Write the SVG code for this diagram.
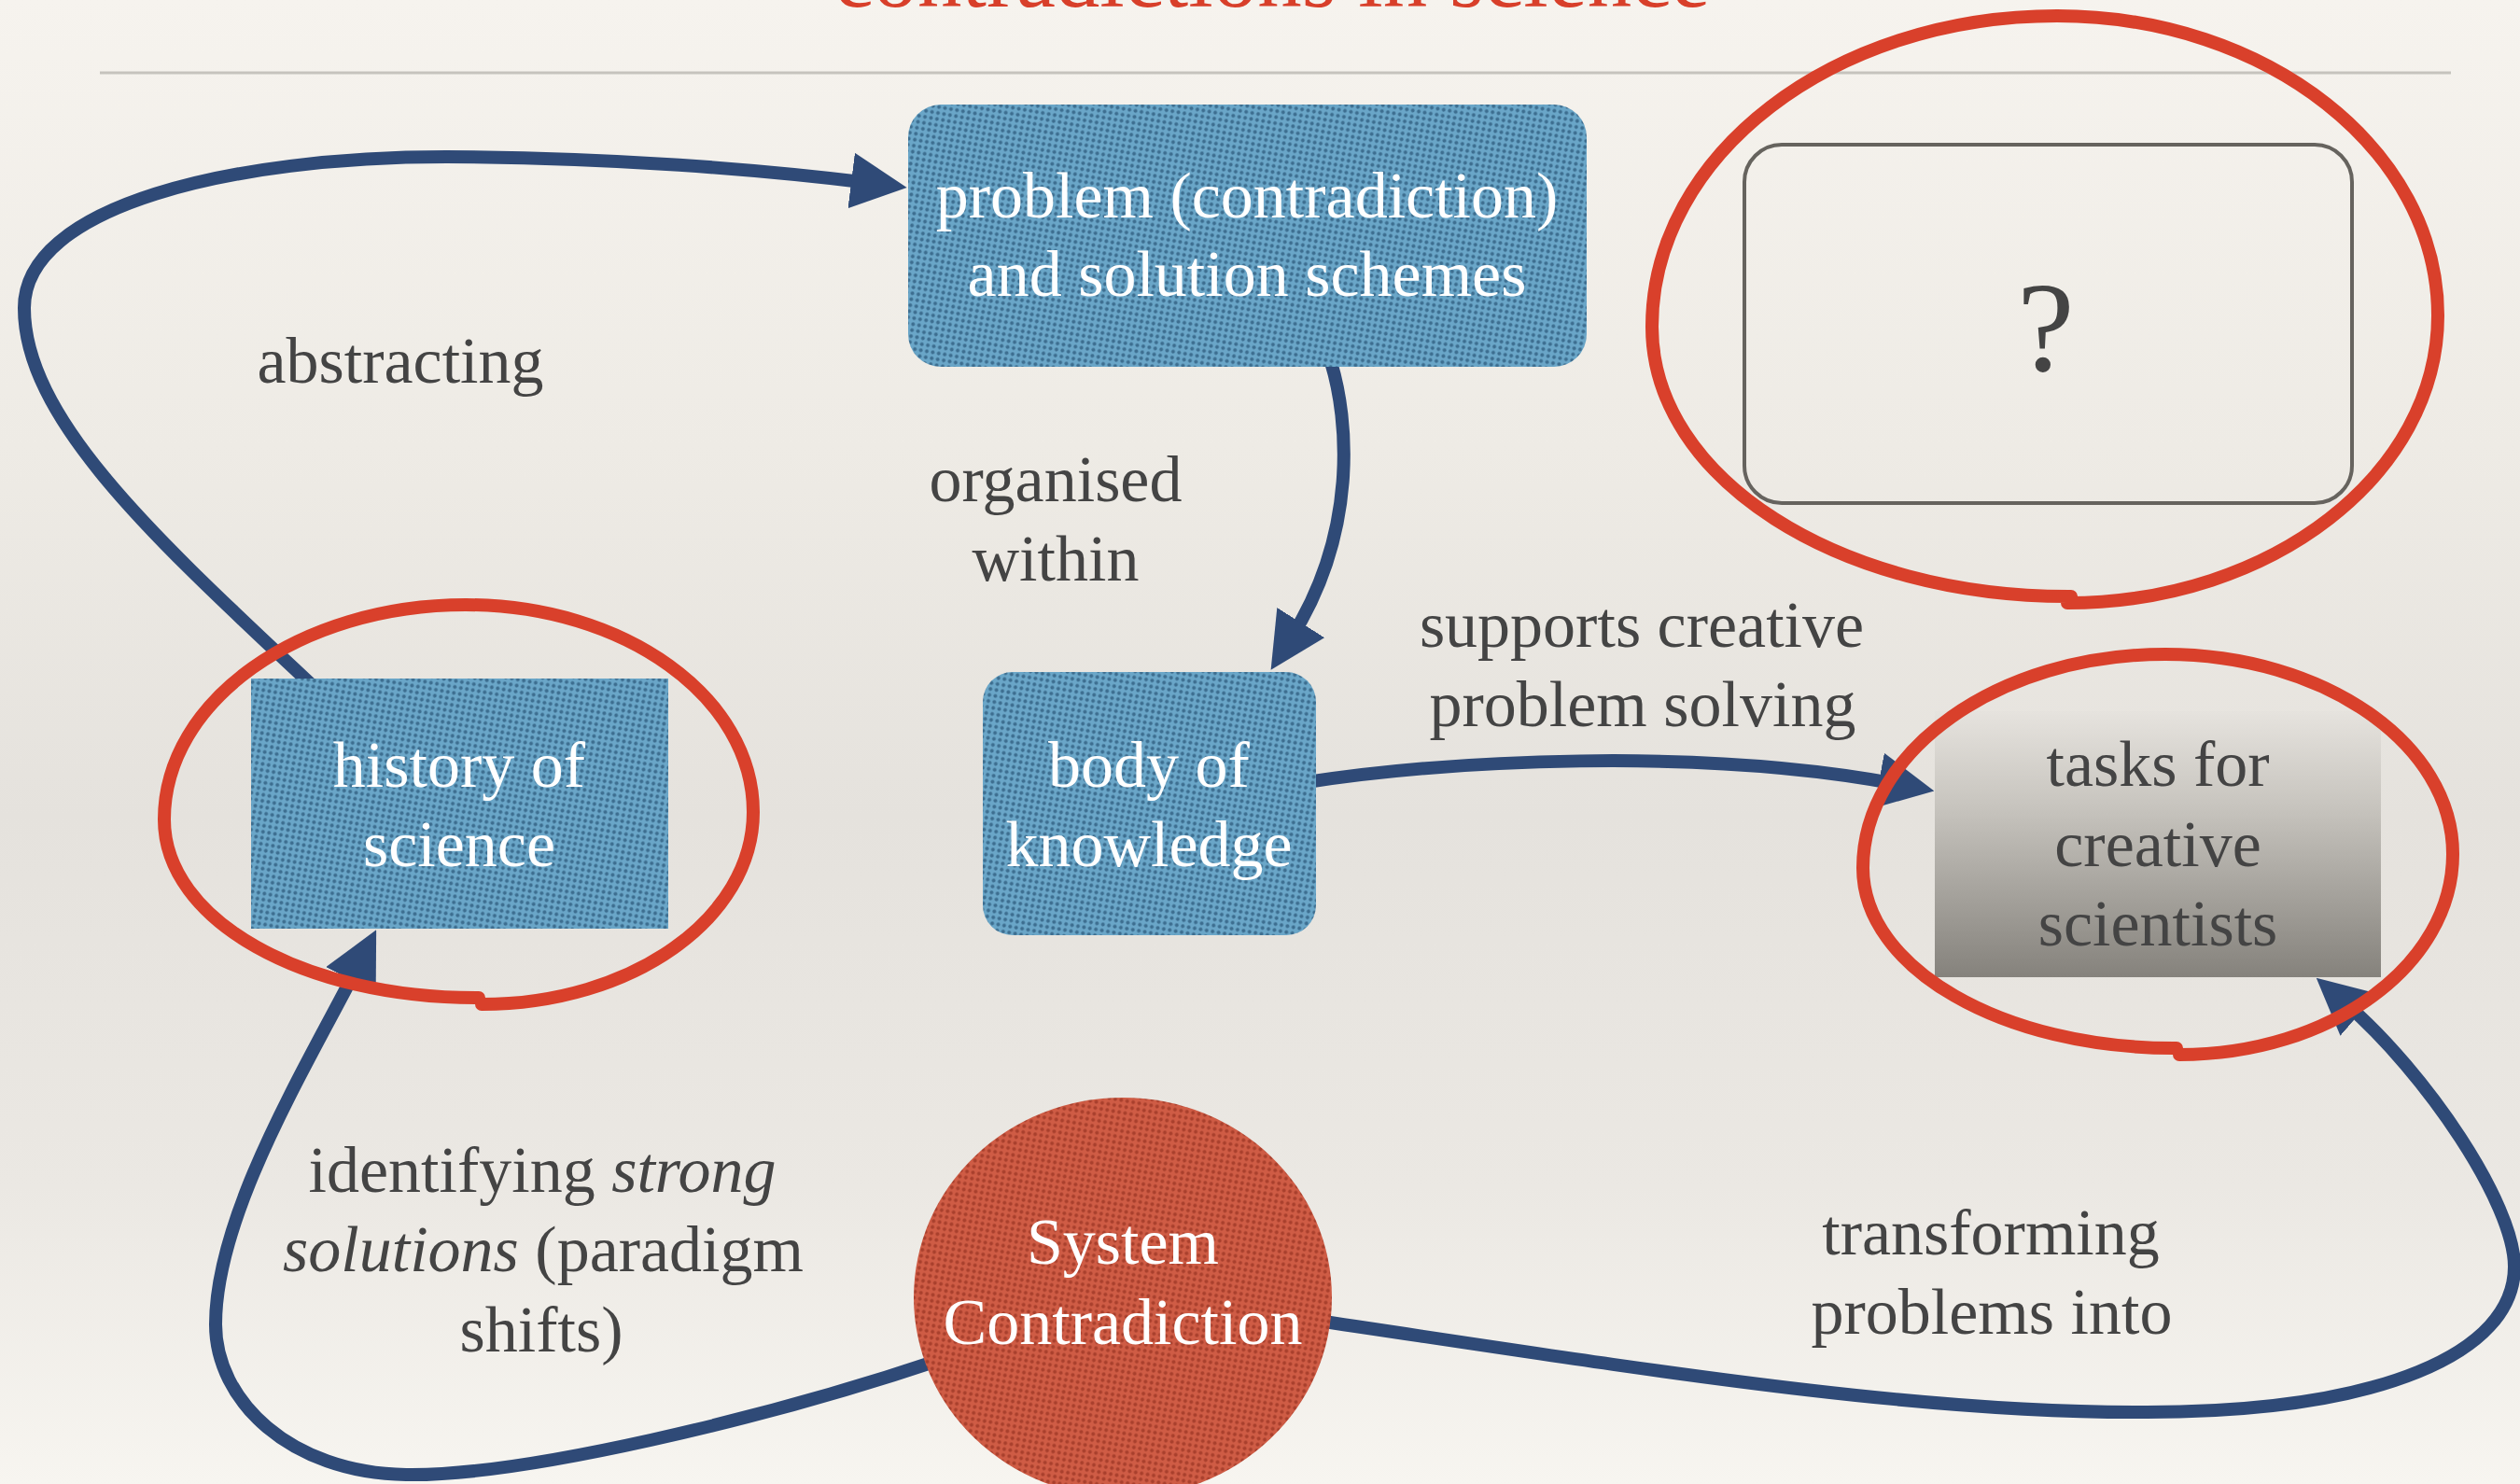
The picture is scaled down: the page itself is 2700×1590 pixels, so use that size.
<svg xmlns="http://www.w3.org/2000/svg" width="2700" height="1590" viewBox="0 0 2700 1590">
  <defs>
    <linearGradient id="paper" x1="0" y1="0" x2="0" y2="1">
      <stop offset="0" stop-color="#f6f3ee"/>
      <stop offset="0.3" stop-color="#eeebe5"/>
      <stop offset="0.55" stop-color="#e5e2dd"/>
      <stop offset="0.8" stop-color="#ebe8e3"/>
      <stop offset="1" stop-color="#f7f5f0"/>
    </linearGradient>
    <linearGradient id="greyFill" x1="0" y1="0" x2="0" y2="1">
      <stop offset="0" stop-color="#e6e3de"/>
      <stop offset="0.35" stop-color="#c8c5bf"/>
      <stop offset="1" stop-color="#85827c"/>
    </linearGradient>
    <pattern id="dotsBlue" width="6.5" height="6.5" patternUnits="userSpaceOnUse" patternTransform="rotate(10)">
      <rect width="6.5" height="6.5" fill="#6aa6c8"/>
      <circle cx="3.25" cy="3.25" r="2" fill="#3d6e90"/>
    </pattern>
    <pattern id="dotsRed" width="6.5" height="6.5" patternUnits="userSpaceOnUse" patternTransform="rotate(10)">
      <rect width="6.5" height="6.5" fill="#cf5c45"/>
      <circle cx="3.25" cy="3.25" r="2" fill="#a9402d"/>
    </pattern>
    <marker id="ah" viewBox="0 0 60 60" markerUnits="userSpaceOnUse" markerWidth="60" markerHeight="60" refX="20" refY="30" orient="auto">
      <path d="M0,0 L60,30 L0,60 z" fill="#2f4a77"/>
    </marker>
  </defs>
  <style>
    .conn { fill: none; stroke: #2f4a77; stroke-width: 14; marker-end: url(#ah); }
    .ring { fill: none; stroke: #d9402b; stroke-width: 14; stroke-linecap: round; stroke-linejoin: round; }
    .lbl { font-family: "Liberation Serif", "Times New Roman", serif; font-size: 70px; fill: #444444; text-anchor: middle; }
    .ntx { font-family: "Liberation Serif", "Times New Roman", serif; font-size: 70px; fill: #ffffff; text-anchor: middle; }
    .dark { fill: #444444; }
    .blue { fill: url(#dotsBlue); }
  </style>

  <!-- paper background -->
  <rect x="0" y="0" width="2700" height="1590" fill="url(#paper)"/>

  <!-- heading (runs off the top edge) and rule -->
  <text x="1363" y="7" font-family="'Liberation Serif', 'Times New Roman', serif" font-size="95" fill="#d83f2a" text-anchor="middle">contradictions in science</text>
  <line x1="107" y1="78" x2="2626" y2="78" stroke="#c6c3bd" stroke-width="3"/>

  <!-- connectors -->
  <g id="connectors">
    <path id="c-abstracting" class="conn" d="M335 735 C 170 580, 26 450, 26 330 C 26 220, 250 168, 478 168 C 650 168, 820 182, 932 196"/>
    <path id="c-organised" class="conn" d="M1426 388 C 1445 450, 1455 570, 1383 684"/>
    <path id="c-supports" class="conn" d="M1400 838 C 1550 815, 1820 800, 2033 840"/>
    <path id="c-transforming" class="conn" d="M1405 1414 C 1750 1465, 2050 1515, 2300 1513 C 2550 1513, 2694 1450, 2694 1357 C 2694 1290, 2600 1150, 2512 1074"/>
    <path id="c-identifying" class="conn" d="M1010 1456 C 820 1520, 560 1582, 435 1580 C 310 1578, 231 1500, 231 1419 C 231 1300, 330 1140, 385 1032"/>
  </g>

  <!-- nodes -->
  <g id="node-problem">
    <rect x="973" y="112" width="727" height="281" rx="35" class="blue"/>
    <text class="ntx" x="1336" y="233">problem (contradiction)</text>
    <text class="ntx" x="1336" y="317">and solution schemes</text>
  </g>
  <g id="node-body">
    <rect x="1053" y="720" width="357" height="282" rx="32" class="blue"/>
    <text class="ntx" x="1231" y="843">body of</text>
    <text class="ntx" x="1231" y="928">knowledge</text>
  </g>
  <g id="node-history">
    <rect x="269" y="727" width="447" height="268" class="blue"/>
    <text class="ntx" x="492" y="843">history of</text>
    <text class="ntx" x="492" y="928">science</text>
  </g>
  <g id="node-tasks">
    <rect x="2073" y="762" width="478" height="285" fill="url(#greyFill)"/>
    <text class="lbl" x="2312" y="842">tasks for</text>
    <text class="lbl" x="2312" y="928">creative</text>
    <text class="lbl" x="2312" y="1013">scientists</text>
  </g>
  <g id="node-unknown">
    <rect x="1869" y="155" width="651" height="384" rx="40" fill="none" stroke="#66635e" stroke-width="4"/>
    <text class="lbl" x="2192" y="397" font-size="138" style="font-size:138px">?</text>
  </g>
  <g id="node-contradiction">
    <ellipse cx="1203" cy="1390" rx="224" ry="214" fill="url(#dotsRed)"/>
    <text class="ntx" x="1203" y="1354">System</text>
    <text class="ntx" x="1203" y="1440">Contradiction</text>
  </g>

  <!-- hand-drawn highlight rings -->
  <g id="rings">
    <path class="ring" d="M2215 646 C 2434 646, 2612 508, 2612 338 C 2612 161, 2429 17, 2204 17 C 1964 17, 1770 166, 1770 350 C 1770 513, 1971 640, 2219 639"/>
    <path class="ring" d="M516 1076 C 677 1076, 807 984, 807 870 C 807 747, 669 648, 499 648 C 321 648, 176 751, 176 878 C 176 986, 326 1070, 513 1069"/>
    <path class="ring" d="M2335 1130 C 2497 1130, 2628 1034, 2628 915 C 2628 797, 2490 701, 2320 701 C 2141 701, 1996 804, 1996 930 C 1996 1037, 2146 1124, 2332 1123"/>
  </g>

  <!-- connector labels -->
  <g id="labels">
    <text class="lbl" x="429" y="410">abstracting</text>
    <text class="lbl" x="1131" y="537">organised</text>
    <text class="lbl" x="1131" y="622">within</text>
    <text class="lbl" x="1759" y="693">supports creative</text>
    <text class="lbl" x="1760" y="778">problem solving</text>
    <text class="lbl" x="581" y="1277">identifying <tspan font-style="italic">strong</tspan></text>
    <text class="lbl" x="582" y="1362"><tspan font-style="italic">solutions</tspan> (paradigm</text>
    <text class="lbl" x="580" y="1448">shifts)</text>
    <text class="lbl" x="2133" y="1344">transforming</text>
    <text class="lbl" x="2134" y="1429">problems into</text>
  </g>
</svg>
